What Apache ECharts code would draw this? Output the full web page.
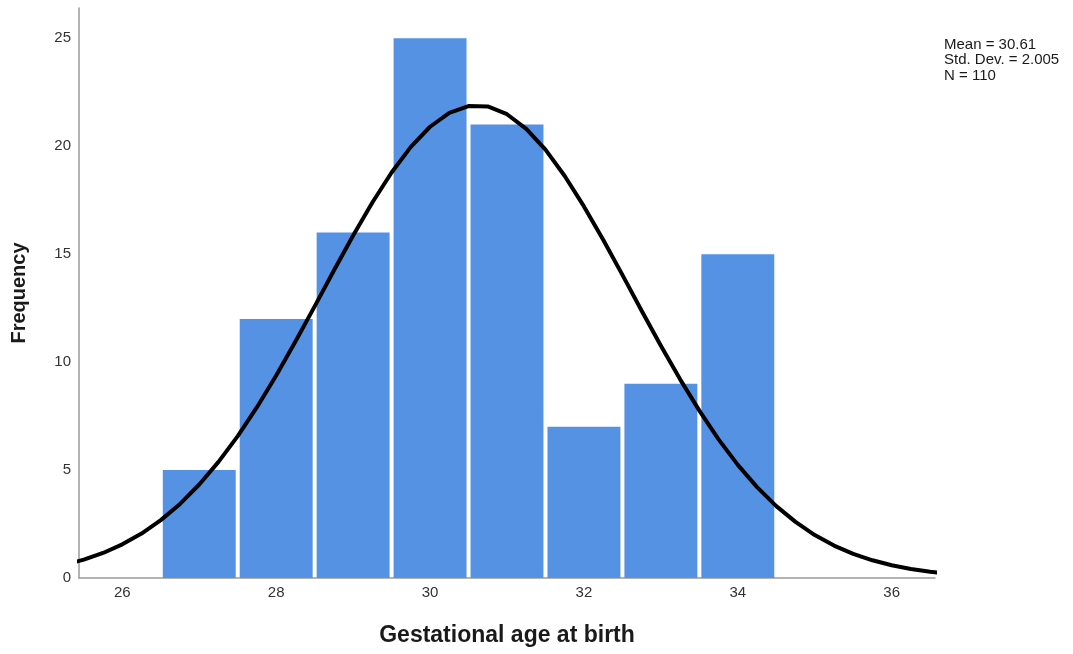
<!DOCTYPE html>
<html>
<head>
<meta charset="utf-8">
<script src="https://cdn.jsdelivr.net/npm/echarts@6/dist/echarts.min.js"></script>
<style>
html,body{margin:0;padding:0;background:#fff;}
#chart{width:1073px;height:654px;}
</style>
</head>
<body>
<div id="chart"></div>
<script>
// Histogram bins (centers) and frequencies
const binCenters = [27, 28, 29, 30, 31, 32, 33, 34];
const frequencies = [5, 12, 16, 25, 21, 7, 9, 15];
const binWidth = 1;
// Fitted normal curve (every 0.25)
const curveX = [25, 25.25, 25.5, 25.75, 26, 26.25, 26.5, 26.75, 27, 27.25, 27.5, 27.75, 28, 28.25, 28.5, 28.75, 29, 29.25, 29.5, 29.75, 30, 30.25, 30.5, 30.75, 31, 31.25, 31.5, 31.75, 32, 32.25, 32.5, 32.75, 33, 33.25, 33.5, 33.75, 34, 34.25, 34.5, 34.75, 35, 35.25, 35.5, 35.75, 36, 36.25, 36.5, 36.75, 37];
const curveY = [0.44, 0.61, 0.85, 1.16, 1.56, 2.06, 2.68, 3.43, 4.33, 5.38, 6.57, 7.91, 9.38, 10.95, 12.58, 14.24, 15.86, 17.39, 18.78, 19.97, 20.90, 21.54, 21.86, 21.84, 21.48, 20.80, 19.84, 18.62, 17.21, 15.67, 14.04, 12.38, 10.76, 9.20, 7.75, 6.42, 5.24, 4.21, 3.33, 2.60, 1.99, 1.50, 1.12, 0.82, 0.59, 0.42, 0.29, 0.20, 0.14];
const xTicks = [26, 28, 30, 32, 34, 36];
const statsLines = ['Mean = 30.61', 'Std. Dev. = 2.005', 'N = 110'];

const chart = echarts.init(document.getElementById('chart'));
const font = '"Liberation Sans", Arial, sans-serif';
chart.setOption({
  animation: false,
  backgroundColor: '#ffffff',
  grid: {left: 79, right: 138, top: 8, bottom: 76},
  xAxis: {
    type: 'value', min: 25.437, max: 36.563,
    name: 'Gestational age at birth', nameLocation: 'middle', nameGap: 46,
    nameTextStyle: {fontFamily: font, fontSize: 23, fontWeight: 'bold', color: '#1a1a1a'},
    axisLine: {show: true, lineStyle: {color: '#9a9a9a', width: 1.5}},
    axisTick: {show: false}, splitLine: {show: false},
    axisLabel: {fontFamily: font, fontSize: 15, color: '#333', margin: 7,
      customValues: xTicks}
  },
  yAxis: {
    type: 'value', min: 0, max: 26.4, interval: 5,
    name: 'Frequency', nameLocation: 'middle', nameGap: 50, nameRotate: 90,
    nameTextStyle: {fontFamily: font, fontSize: 20, fontWeight: 'bold', color: '#1a1a1a'},
    axisLine: {show: true, lineStyle: {color: '#9a9a9a', width: 1.5}},
    axisTick: {show: false}, splitLine: {show: false},
    axisLabel: {fontFamily: font, fontSize: 15, color: '#333', margin: 8, showMaxLabel: false}
  },
  graphic: [{
    type: 'text', left: 944, top: 37,
    style: {text: statsLines.join('\n'), fontFamily: font, fontSize: 15, lineHeight: 15.5, fill: '#1a1a1a'}
  }],
  series: [{
    type: 'custom',
    data: binCenters.map((c, i) => [c, frequencies[i]]),
    renderItem: function (params, api) {
      const c = api.value(0), f = api.value(1);
      const p0 = api.coord([c - binWidth / 2, 0]);
      const p1 = api.coord([c + binWidth / 2, f]);
      return {
        type: 'rect',
        shape: {x: p0[0] + 2, y: p1[1], width: p1[0] - p0[0] - 4, height: p0[1] - p1[1]},
        style: {fill: '#5592e3'}
      };
    },
    z: 1
  }, {
    type: 'line',
    data: curveX.map((x, i) => [x, curveY[i]]),
    smooth: false, showSymbol: false, clip: true,
    lineStyle: {color: '#000', width: 4, join: 'round'},
    z: 3
  }]
});
</script>
</body>
</html>
